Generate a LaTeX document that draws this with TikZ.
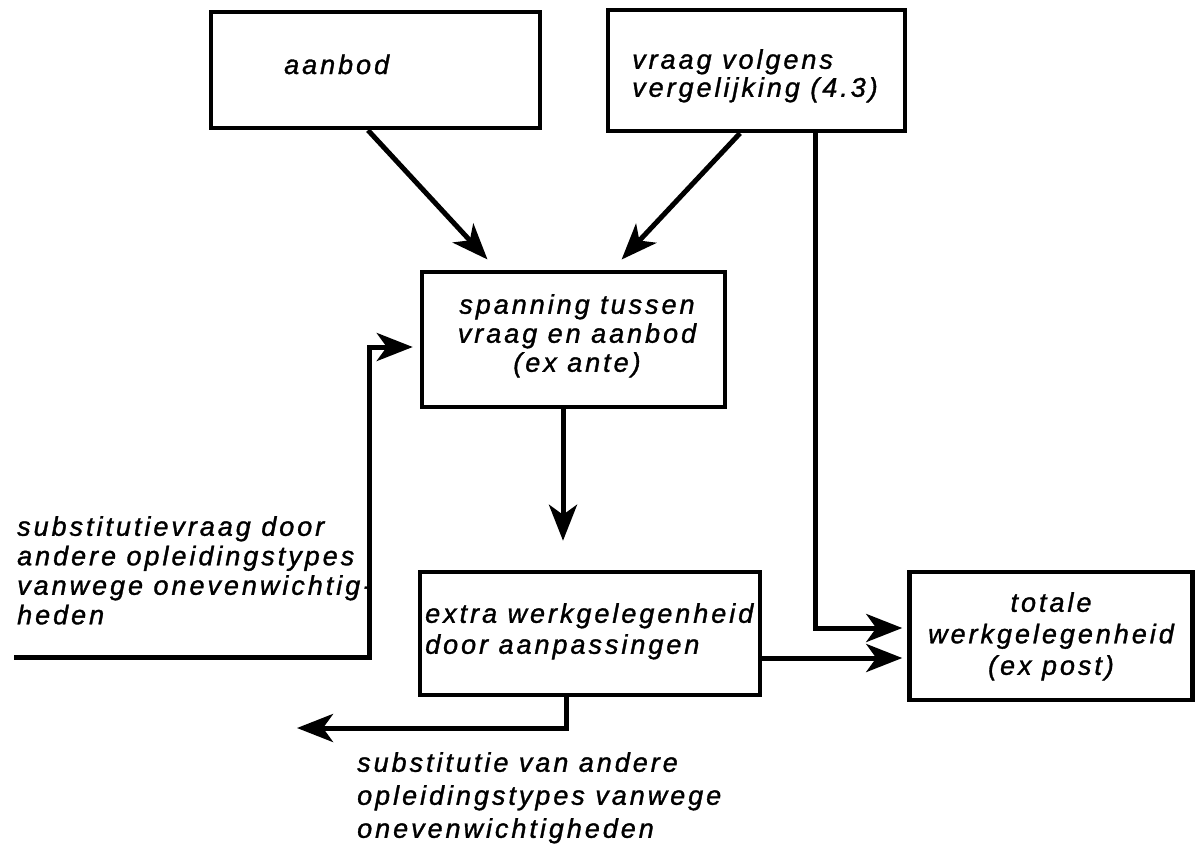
\documentclass[tikz,border=0pt]{standalone}
\usepackage{fontspec}
\setmainfont{Liberation Sans}[LetterSpace=11, FakeBold=1.2]
\usetikzlibrary{arrows.meta}
\tikzset{
  box/.style={draw, line width=4.5pt, rectangle, inner sep=0pt},
  lbl/.style={inner sep=0pt, font=\itshape\fontsize{27}{30}\selectfont},
  conn/.style={line width=5pt, -{Stealth[length=36pt, width=28pt, inset=10pt]}},
}
\begin{document}
\begin{tikzpicture}[x=1pt, y=-1pt]
\useasboundingbox (0,0) rectangle (1196,844);
% boxes
\node[box, minimum width=329pt, minimum height=116pt] (aanbod) at (375.5,70) {};
\node[box, minimum width=297pt, minimum height=121pt] (vraag) at (756.5,70.5) {};
\node[box, minimum width=303pt, minimum height=135pt] (span) at (573.5,339.5) {};
\node[box, minimum width=340pt, minimum height=123pt] (extra) at (590,633.5) {};
\node[box, minimum width=283pt, minimum height=128pt] (tot) at (1051,636) {};
% texts
\node[lbl, anchor=base west] (taanbod) at (284,74) {aanbod};
\node[lbl, anchor=north west, align=left, font=\itshape\fontsize{27}{28}\selectfont] (tvraag) at (632,49) {vraag volgens\\vergelijking (4.3)};
\node[lbl, anchor=north, align=center, font=\itshape\fontsize{27}{29}\selectfont] (tspan) at (577,294) {spanning tussen\\vraag en aanbod\\(ex ante)};
\node[lbl, anchor=north west, align=left, font=\itshape\fontsize{27}{31}\selectfont] (textra) at (425,603) {extra werkgelegenheid\\door aanpassingen};
\node[lbl, anchor=north, align=center, font=\itshape\fontsize{27}{31.5}\selectfont] (ttot) at (1051,592) {totale\\werkgelegenheid\\(ex post)};
\node[lbl, anchor=north west, align=left, font=\itshape\fontsize{27}{29.5}\selectfont] (tleft) at (17,516) {substitutievraag door\\andere opleidingstypes\\vanwege onevenwichtig-\\heden};
\node[lbl, anchor=north west, align=left, font=\itshape\fontsize{27}{33}\selectfont] (tbot) at (357,752) {substitutie van andere\\opleidingstypes vanwege\\onevenwichtigheden};
% free ends
\coordinate (lstart) at (14,657);
\coordinate (bend) at (297,728);
% connectors
\draw[conn, shorten >=14pt] ([xshift=-7.5pt]aanbod.south) -- ([xshift=-76.5pt]span.north);
\draw[conn, shorten >=14pt] ([xshift=-16.5pt]vraag.south) -- ([xshift=38.5pt]span.north);
\draw[conn, shorten >=29pt] ([xshift=-10.5pt]span.south) -- ([xshift=-10.5pt]span.south |- extra.north);
\draw[conn, shorten >=5pt] ([xshift=58.5pt]vraag.south) |- ([yshift=8pt]tot.west);
\draw[conn, shorten >=5pt] ([yshift=-22pt]tot.west -| extra.east) -- ([yshift=-22pt]tot.west);
\draw[conn, shorten >=7pt] (lstart) -| ([xshift=-50pt, yshift=-7.5pt]span.west) -- ([yshift=-7.5pt]span.west);
\draw[conn] ([xshift=-24pt]extra.south) |- (bend);
\end{tikzpicture}
\end{document}
